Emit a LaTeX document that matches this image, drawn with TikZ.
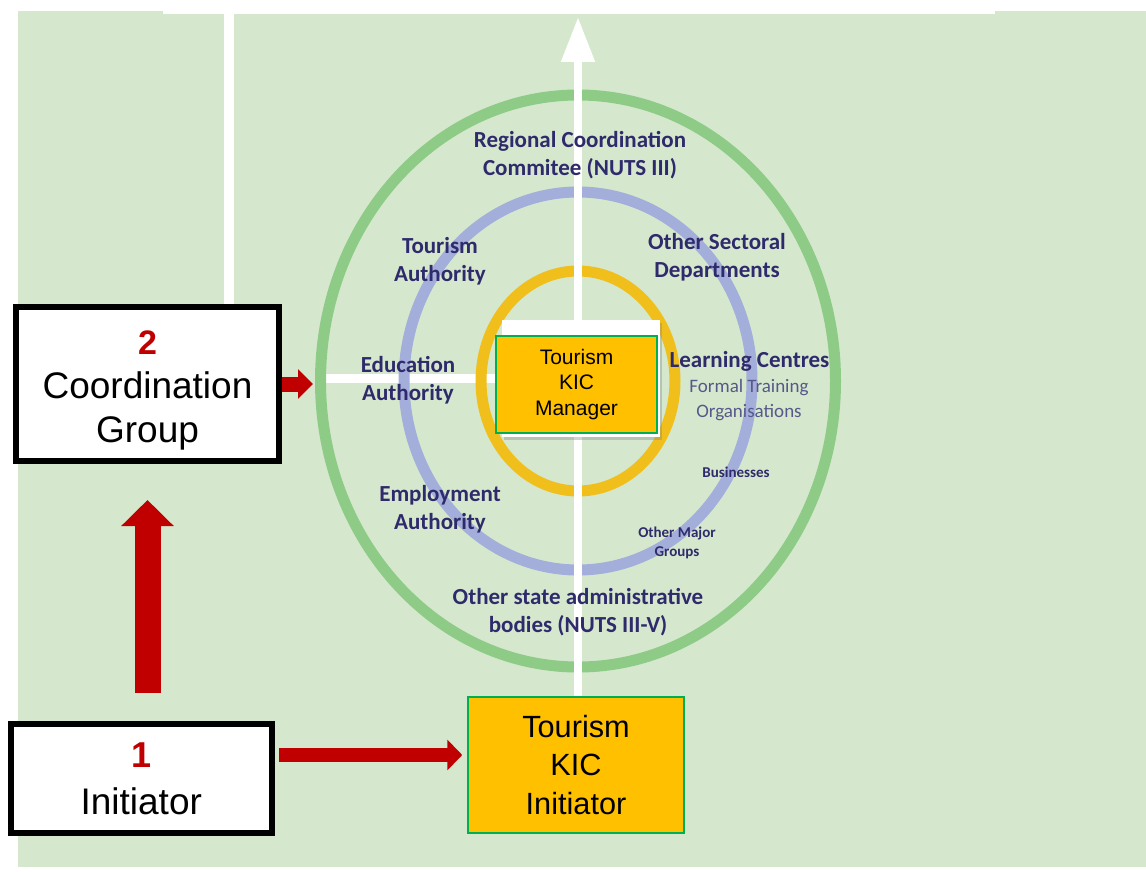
\documentclass[tikz,border=0pt]{standalone}
\usepackage{fontspec}
\setmainfont{Liberation Sans}
\newfontfamily\ringfont{Carlito}
\usetikzlibrary{arrows.meta,shadows}
\definecolor{bggreen}{HTML}{D5E8CD}
\definecolor{ringgreen}{HTML}{8DCB87}
\definecolor{ringblue}{HTML}{A4AEDA}
\definecolor{ringgold}{HTML}{F0BF1C}
\definecolor{kicgold}{HTML}{FFC000}
\definecolor{kicgreen}{HTML}{00B050}
\definecolor{arrowred}{HTML}{C00000}
\definecolor{labelnavy}{HTML}{2F2A6B}
\definecolor{labelgrey}{HTML}{57588A}

\begin{document}
\begin{tikzpicture}[x=1pt,y=-1pt,>=latex,
	rolebox/.style={draw=black,line width=6pt,fill=white,align=center,font=\fontsize{37}{44}\selectfont},
	kicbox/.style={draw=kicgreen,line width=1.5pt,fill=kicgold,align=center},
	ringtext/.style={text=labelnavy,align=center,font=\ringfont\bfseries\fontsize{23}{28}\selectfont},
	ringsmall/.style={text=labelnavy,align=center,font=\ringfont\bfseries\fontsize{15}{19}\selectfont},
	redarrow/.style={draw=arrowred,line width=26pt}]
			\useasboundingbox (0,0) rectangle (1146,872);
			\fill[bggreen] (18,11) rectangle (1146,867);
			\fill[white] (163,0) rectangle (995,14);
			\draw[white,line width=10pt] (229,14) -- (229,310);
			\draw[white,line width=9pt] (318,378.5) -- (578,378.5);
			\foreach \rx/\ry/\c in {257.5/286/ringgreen, 174/189/ringblue, 97/110/ringgold}
			\draw[\c,line width=11pt] (578,381) ellipse ({\rx pt} and {\ry pt});
			\draw[white,line width=8pt,-{Triangle[width=32pt,length=45pt]}] (578,697) -- (578,17);
			\fill[white,drop shadow={opacity=.35,shadow xshift=2pt,shadow yshift=-3pt}] (502,320) rectangle (660,437);
			\foreach \n/\x/\y/\t in {reg/580/155/{Regional Coordination\\Commitee (NUTS III)},
				tour/440/261/{Tourism\\Authority}, sect/717/257.5/{Other Sectoral\\Departments},
				edu/408/380.5/{Education\\Authority}, empl/440/509.5/{Employment\\Authority},
				other/578/612.5/{Other state administrative\\bodies (NUTS III-V)}}
			\node[ringtext] (\n) at (\x,\y) {\t};
			\node[ringtext] (learn) at (749.5,361) {Learning Centres};
			\node[ringtext,text=labelgrey,font=\ringfont\fontsize{19}{25}\selectfont] (formal) at (749,400) {Formal Training\\Organisations};
			\foreach \n/\x/\y/\t in {bus/736/472/{Businesses}, major/677/542.5/{Other Major\\Groups}}
			\node[ringsmall] (\n) at (\x,\y) {\t};
			\node[kicbox,minimum width=161pt,minimum height=97pt,font=\fontsize{21}{25.5}\selectfont] (manager) at (576.5,384.5) {Tourism\\KIC\\Manager};
			\node[kicbox,minimum width=216pt,minimum height=136pt,font=\fontsize{30.7}{38.5}\selectfont] (kicinit) at (576,765) {Tourism\\KIC\\Initiator};
			\node[rolebox,minimum width=263pt,minimum height=154pt] (coord) at (147.5,384) {{\rule{0pt}{36pt}\color{arrowred}\bfseries\fontsize{34}{44}\selectfont 2}\\Coordination\\Group};
			\node[rolebox,minimum width=261.5pt,minimum height=109pt,font=\fontsize{37}{47}\selectfont] (init) at (141.25,778.5) {{\color{arrowred}\bfseries\fontsize{36}{47}\selectfont 1}\\Initiator};
			\coordinate (ringwest) at (313,384);
			\draw[redarrow,-{Triangle[width=51pt,length=26pt]},shorten <=28pt,shorten >=36pt] (coord.south |- init.north) -- (coord.south);
			\draw[redarrow,line width=14pt,-{Triangle[width=30pt,length=15pt]},shorten <=4pt,shorten >=5pt] ([yshift=23.5pt]init.east) -- ([yshift=10pt]kicinit.west);
			\draw[redarrow,line width=15pt,-{Triangle[width=29pt,length=15pt]}] (coord.east) -- (ringwest);
		\end{tikzpicture}
\end{document}
